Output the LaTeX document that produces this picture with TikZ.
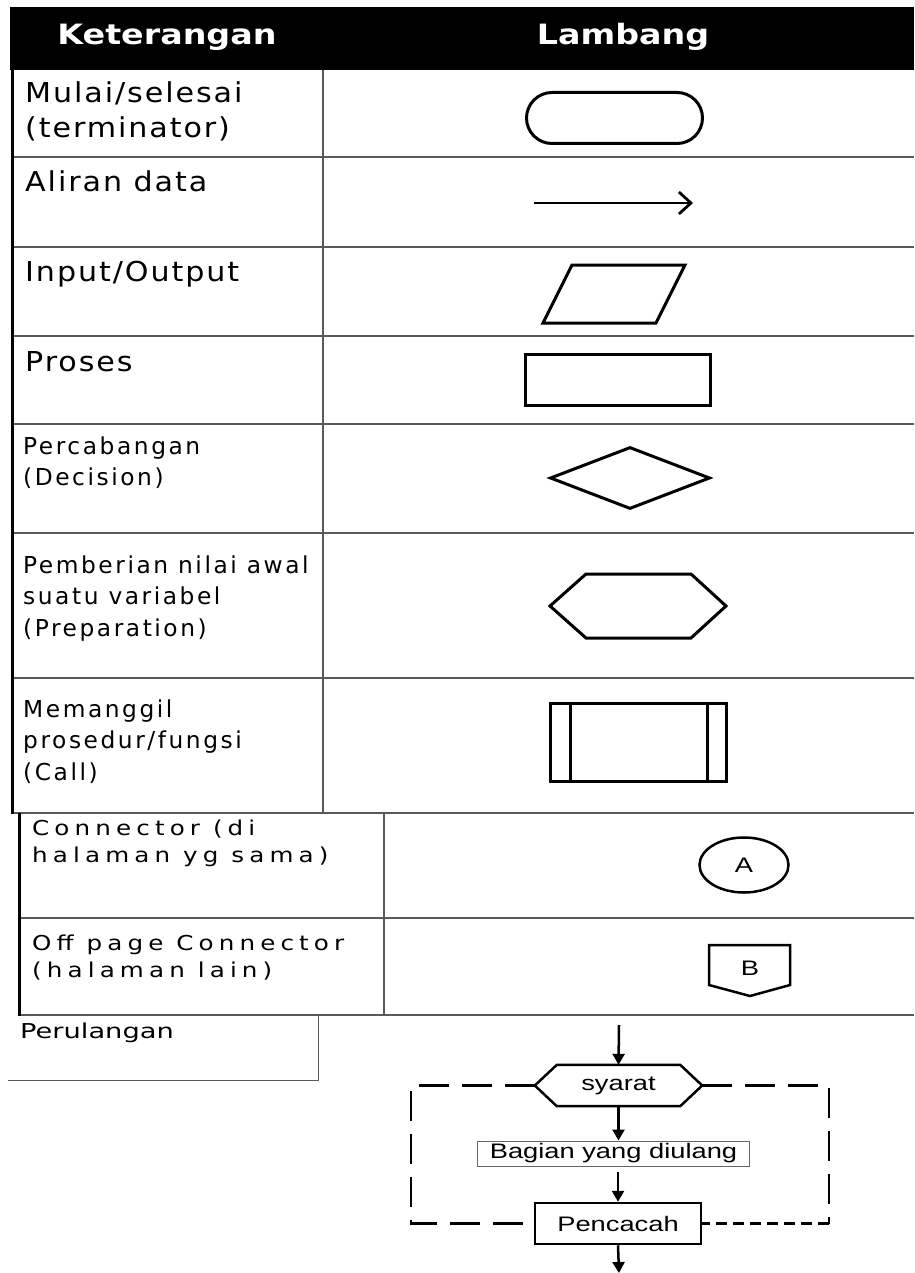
\documentclass[tikz,border=0pt]{standalone}
\usepackage{fontspec}
\setmainfont{DejaVu Sans}
\newfontfamily\headfont[FakeStretch=1.19]{DejaVu Sans}
\newfontfamily\bigfont[FakeStretch=1.1,LetterSpace=7]{DejaVu Sans}
\newfontfamily\midfont[LetterSpace=11]{DejaVu Sans}
\newfontfamily\confont[FakeStretch=1.2,LetterSpace=25]{DejaVu Sans}
\newfontfamily\perfont[FakeStretch=1.33]{DejaVu Sans}
\newfontfamily\loopfont[FakeStretch=1.3]{Liberation Sans}
\usetikzlibrary{positioning,arrows.meta,shapes.misc,shapes.geometric}

\begin{document}
\begin{tikzpicture}[x=1pt, y=-1pt,
    grid/.style={draw=black!65, line width=1.4pt},
    border/.style={draw=black, line width=3pt},
    sym/.style={draw, line width=3pt, inner sep=0pt},
    row/.style={anchor=base west, inner sep=0pt, align=left},
    big/.style={row, font=\bigfont\fontsize{27.4}{35}\selectfont},
    mid/.style={row, font=\midfont\fontsize{23.3}{31.5}\selectfont},
    con/.style={row, font=\confont\fontsize{20.5}{26.5}\selectfont},
    head/.style={anchor=base, text=white, font=\headfont\bfseries\fontsize{28}{32}\selectfont},
    small/.style={font=\loopfont\fontsize{21}{24}\selectfont},
    flow/.style={line width=2.5pt, -{Triangle[length=11pt,width=12pt]}},
    loopdash/.style={line width=2.5pt, dash pattern=on 30pt off 13pt}]
    \useasboundingbox (0,0) rectangle (914,1273);

    % header
    \fill (10,7) rectangle (914,70);
    \node[head] (hKet) at (167,45) {Keterangan};
    \node[head] (hLam) at (623,45) {Lambang};

    % table lines
    \foreach \y in {157,247,336,424,533,678}
        \draw[grid] (12,\y) -- (914,\y);
    \draw[grid] (323,70) -- (323,813);
    \draw[grid] (12,813) -- (914,813);
    \draw[border] (12,70) -- (12,814);
    \draw[grid] (384,813) -- (384,1015);
    \foreach \y in {918,1015}
        \draw[grid] (19,\y) -- (914,\y);
    \draw[border] (19,813) -- (19,1016);
    \draw[grid, line width=1pt] (318,1015) -- (318,1080) -- (8,1080);

    % keterangan (base = last line)
    \node[big] (t1) at (25,138) {Mulai/selesai\\(terminator)};
    \node[big] (t2) at (25,192) {Aliran data};
    \node[big] (t3) at (25,281) {Input/Output};
    \node[big] (t4) at (25,371) {Proses};
    \node[mid] (t5) at (23,485.5) {Percabangan\\(Decision)};
    \node[mid] (t6) at (23,636) {Pemberian nilai awal\\suatu variabel\\(Preparation)};
    \node[mid] (t7) at (23,780) {Memanggil\\prosedur/fungsi\\(Call)};
    \node[con] (t8) at (32,862) {Connector (di\\halaman yg sama)};
    \node[con] (t9) at (32,977) {Off page Connector\\(halaman lain)};
    \node[row, font=\perfont\fontsize{20.5}{24}\selectfont] (t10) at (20,1038) {Perulangan};

    % lambang
    \node[sym, rounded rectangle, minimum width=176, minimum height=51] (term) at (614.5,118) {};
    \coordinate (aS) at (534,203);
    \coordinate (aE) at (693,203);
    \draw[line width=2.8pt, -{Straight Barb[length=12pt,width=22pt]}] (aS) -- (aE);
    \draw[line width=3pt] (572,265) -- (685,265) -- (656,323) -- (543,323) -- cycle;
    \node[sym, minimum width=185, minimum height=51] (proc) at (618,380) {};
    \node[sym, diamond, minimum width=160, minimum height=62] (dec) at (630,478) {};
    \draw[line width=3pt] (586,574) -- (691,574) -- (726,606) -- (691,638) -- (586,638) -- (550,606) -- cycle;
    \node[sym, minimum width=176, minimum height=78] (call) at (638.5,742.5) {};
    \draw[line width=3pt] ([xshift=21pt]call.north west) -- ([xshift=21pt]call.south west)
        ([xshift=-21pt]call.north east) -- ([xshift=-21pt]call.south east);
    \node[sym, ellipse, line width=2.5pt, minimum width=89, minimum height=55, small] (conA) at (744,865) {A};
    \node[small, inner sep=0pt] (conB) at (750,968) {B};
    \draw[line width=2.5pt] (709,945) -- (790,945) -- (790,985) -- (750,996) -- (709,985) -- cycle;

    % perulangan
    \coordinate (top) at (619,1025);
    \node[small, inner sep=0pt, minimum width=123, minimum height=41] (syarat) at (618.5,1085.5) {syarat};
    \draw[line width=2.5pt] (syarat.north west) -- (syarat.north east)
        -- ([xshift=22pt]syarat.east) coordinate (sR) -- (syarat.south east)
        -- (syarat.south west) -- ([xshift=-22pt]syarat.west) coordinate (sL) -- cycle;
    \node[small, draw=black!60, line width=1pt, inner sep=0pt, minimum width=272, minimum height=25] (bagian) at (613.5,1153.5) {Bagian yang diulang};
    \node[small, draw, line width=2.5pt, inner sep=0pt, minimum width=166, minimum height=41] (pencacah) at (618,1223.5) {Pencacah};
    \coordinate (bot) at (619,1273);

    \draw[flow] (top) -- (syarat.north);
    \draw[flow] (syarat.south) -- (syarat.south |- bagian.north);
    \draw[flow, shorten <=5pt] (bagian.south -| pencacah.north) -- (pencacah.north);
    \draw[flow] (pencacah.south) -- (bot);

    \draw[loopdash] (sL) -- ++(-124,0) |- (pencacah.west);
    \draw[loopdash] (sR) -- ++(127,0) -- ++(0,138) coordinate (rc);
    \draw[line width=2.5pt, dash pattern=on 11pt off 6pt] (rc) -- (pencacah.east);
\end{tikzpicture}
\end{document}
